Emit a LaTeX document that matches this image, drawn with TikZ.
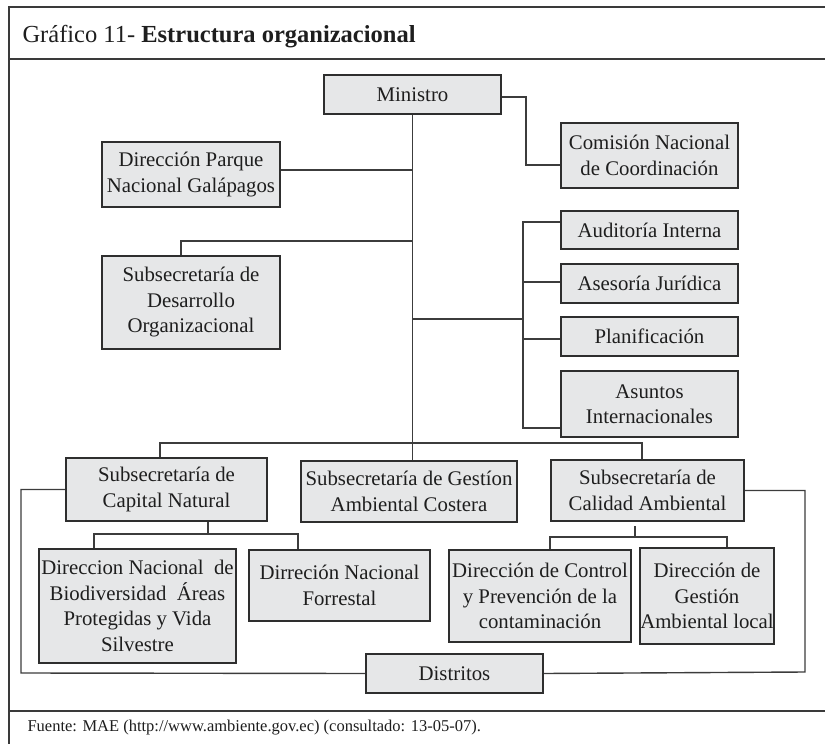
\documentclass[tikz,border=0pt]{standalone}
\usepackage{fontspec}
\setmainfont{Liberation Serif}
\begin{document}
\begin{tikzpicture}[x=1pt,y=-1pt,
  box/.style={draw=boxline,fill=boxfill,line width=1.6pt,rectangle,inner sep=0pt,
    align=center,text=ink,font=\fontsize{20.8}{25.5}\selectfont},
  link/.style={draw=linkcol,line width=1.4pt},
  frame/.style={draw=framecol,line width=1.4pt}]
\definecolor{boxfill}{HTML}{E6E7E8}
\definecolor{boxline}{HTML}{2E2E2E}
\definecolor{linkcol}{HTML}{3C3C3C}
\definecolor{framecol}{HTML}{3A3A3A}
\definecolor{ink}{HTML}{1E1E1E}
\useasboundingbox (0,0) rectangle (825,744);

% outer frame, title band and footer band
\draw[frame] (9,744) -- (9,7) -- (825,7);
\draw[frame] (9,59) -- (825,59);
\draw[frame] (9,711) -- (825,711);
\node[anchor=base west,text=ink,font=\fontsize{24.5}{28}\selectfont] (title) at (19,42)
  {Gráfico 11- \textbf{Estructura organizacional}};
\node[anchor=base west,text=ink,font=\fontsize{16.5}{20}\selectfont] (source) at (24,731)
  {Fuente: MAE (http://www.ambiente.gov.ec) (consultado: 13-05-07).};

% boxes
\node[box,minimum width=177,minimum height=39] (min) at (412.5,94.5) {Ministro};
\node[box,minimum width=177,minimum height=65] (com) at (649.5,155.5) {Comisión Nacional\\de Coordinación};
\node[box,minimum width=178,minimum height=65] (gal) at (191,174.5) {Dirección Parque\\Nacional Galápagos};
\node[box,minimum width=178,minimum height=93] (des) at (191,302.5) {Subsecretaría de\\Desarrollo\\Organizacional};
\node[box,minimum width=177,minimum height=38] (aud) at (649.5,230) {Auditoría Interna};
\node[box,minimum width=177,minimum height=39] (ase) at (649.5,283.5) {Asesoría Jurídica};
\node[box,minimum width=177,minimum height=39] (pla) at (649.5,336.5) {Planificación};
\node[box,minimum width=177,minimum height=66] (asu) at (649.5,404) {Asuntos\\Internacionales};
\node[box,minimum width=201,minimum height=63] (cap) at (166.5,489.5) {Subsecretaría de\\Capital Natural};
\node[box,minimum width=216,minimum height=61] (ges) at (409,491.5) {Subsecretaría de Gestíon\\Ambiental Costera};
\node[box,minimum width=193,minimum height=61] (cal) at (647.5,490.5) {Subsecretaría de\\Calidad Ambiental};
\node[box,minimum width=197,minimum height=114] (bio) at (137.5,606) {Direccion Nacional\ \ de\\Biodiversidad\ \ Áreas\\Protegidas y Vida\\Silvestre};
\node[box,minimum width=181,minimum height=71] (for) at (339.5,585.5) {Dirreción Nacional\\Forrestal};
\node[box,minimum width=182,minimum height=92] (con) at (540,596) {Dirección de Control\\y Prevención de la\\contaminación};
\node[box,minimum width=132,minimum height=96] (loc) at (707,596) {Dirección de\\Gestión\\Ambiental local};
\node[box,minimum width=177,minimum height=39] (dis) at (454.5,673.5) {Distritos};

% junction points of the connectors
\coordinate (comK) at (526,165);
\coordinate (desK) at (181,241);
\coordinate (rgt) at (523,319);
\coordinate (rTop) at (523,222);
\coordinate (rBot) at (523,428);
\coordinate (busL) at (160,443);
\coordinate (busR) at (642,443);
\coordinate (capK) at (208,534);
\coordinate (capL) at (94,534);
\coordinate (capR) at (298,534);
\coordinate (calT) at (635,526);
\coordinate (calK) at (635,537);
\coordinate (calL) at (550,537);
\coordinate (calR) at (727,537);
\coordinate (loopL) at (21,673);
\coordinate (loopR) at (805,672);

% Ministro and its staff units
\draw[link] (min.south) -- (min.south |- ges.north);
\draw[link] ([yshift=-2.5pt]min.east) -| (comK) -- (comK -| com.west);
\draw[link] ([yshift=4.5pt]gal.east) -- ([yshift=4.5pt]gal.east -| min.south);
\draw[link] (desK |- des.north) -- (desK) -- (desK -| min.south);
\draw[link] (rgt -| min.south) -- (rgt);
\draw[link] (rTop -| aud.west) -- (rTop) -- (rBot) -- (rBot -| asu.west);
\draw[link] (rTop |- 0,282) -- (ase.west |- 0,282);
\draw[link] (rTop |- 0,339) -- (pla.west |- 0,339);

% undersecretariats
\draw[link] (busL |- cap.north) -- (busL) -- (busR) -- (busR |- cal.north);
\draw[link] (capK |- cap.south) -- (capK);
\draw[link] (capL |- bio.north) -- (capL) -- (capR) -- (capR |- for.north);
\draw[link] (calT) -- (calK);
\draw[link] (calL |- con.north) -- (calL) -- (calR) -- (calR |- loc.north);

% districts loop
\draw[link] (cap.west) -| (loopL) -- (dis.west);
\draw[link] (cal.east) -| (loopR) -- (dis.east);
\end{tikzpicture}
\end{document}
